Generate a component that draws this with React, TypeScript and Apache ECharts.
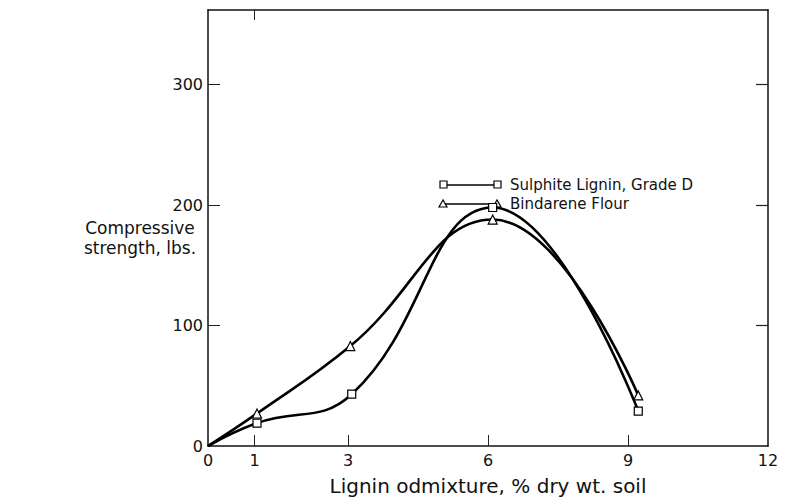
import React, { useEffect, useRef } from "react";
import * as echarts from "echarts";

const sulphiteX = [0, 1.05, 3.08, 6.1, 9.22];
const sulphiteY = [0, 19, 43, 198, 29];
const bindareneX = [0, 1.05, 3.05, 6.1, 9.22];
const bindareneY = [0, 27, 83, 188, 42];
const xTickLabels = [0, 1, 3, 6, 9, 12];
const xTicks = [1, 3, 6, 9];
const yTickLabels = [0, 100, 200, 300];
const yTicks = [100, 200, 300];
const seriesNames = ["Sulphite Lignin, Grade D", "Bindarene Flour"];

const FONT = "DejaVu Sans";

export default function App() {
  const ref = useRef<HTMLDivElement>(null);
  useEffect(() => {
    if (!ref.current) return;
    const chart = echarts.init(ref.current, null, { renderer: "svg" });
    const pts = (xs: number[], ys: number[]) =>
      xs.map((x, i) => (x === 0 && ys[i] === 0 ? { value: [x, ys[i]], symbol: "none" } : [x, ys[i]]));
    const axisLine = { show: true, onZero: false, lineStyle: { color: "#111", width: 1.5 } };
    const option: any = {
      animation: false,
      backgroundColor: "#fff",
      grid: { left: 208, right: 22, top: 10, bottom: 53, containLabel: false },
      xAxis: [
        {
          type: "value",
          min: 0,
          max: 12,
          interval: 1,
          position: "bottom",
          axisLine,
          splitLine: { show: false },
          axisTick: { show: true, inside: true, length: 11, customValues: xTicks, lineStyle: { color: "#222", width: 1 } },
          axisLabel: { customValues: xTickLabels, margin: 6, color: "#111", fontFamily: FONT, fontSize: 16 },
          name: "Lignin odmixture, % dry wt. soil",
          nameLocation: "middle",
          nameGap: 30,
          nameTextStyle: { color: "#111", fontFamily: FONT, fontSize: 20 },
        },
        {
          type: "value",
          min: 0,
          max: 12,
          interval: 1,
          position: "top",
          axisLine,
          splitLine: { show: false },
          axisTick: { show: true, inside: true, length: 10, customValues: [1], lineStyle: { color: "#222", width: 1 } },
          axisLabel: { show: false },
        },
      ],
      yAxis: [
        {
          type: "value",
          min: 0,
          max: 362,
          position: "left",
          axisLine,
          splitLine: { show: false },
          axisTick: { show: true, inside: true, length: 12, customValues: yTicks, lineStyle: { color: "#222", width: 1 } },
          axisLabel: { customValues: yTickLabels, margin: 5, color: "#111", fontFamily: FONT, fontSize: 16 },
        },
        {
          type: "value",
          min: 0,
          max: 362,
          position: "right",
          axisLine,
          splitLine: { show: false },
          axisTick: { show: true, inside: true, length: 12, customValues: yTicks, lineStyle: { color: "#222", width: 1.2 } },
          axisLabel: { show: false },
        },
      ],
      series: [
        {
          name: seriesNames[0],
          type: "line",
          data: pts(sulphiteX, sulphiteY),
          smooth: 0.45,
          symbol: "rect",
          symbolSize: 8,
          showAllSymbol: true,
          lineStyle: { color: "#000", width: 2.6 },
          itemStyle: { color: "#fff", borderColor: "#000", borderWidth: 1.2 },
          z: 3,
        },
        {
          name: seriesNames[1],
          type: "line",
          data: pts(bindareneX, bindareneY),
          smooth: 0.45,
          symbol: "triangle",
          symbolSize: 9,
          showAllSymbol: true,
          lineStyle: { color: "#000", width: 2.6 },
          itemStyle: { color: "#fff", borderColor: "#000", borderWidth: 1.2 },
          z: 3,
        },
      ],
      graphic: [
        {
          type: "text",
          x: 140,
          y: 218,
          style: {
            text: "Compressive\nstrength, lbs.",
            fill: "#111",
            font: `17px "${FONT}"`,
            textAlign: "center",
            lineHeight: 20,
          },
        },
        // legend row 1
        { type: "line", shape: { x1: 444, y1: 185, x2: 496, y2: 185 }, style: { stroke: "#000", lineWidth: 1.6 } },
        { type: "rect", shape: { x: 440, y: 181, width: 7, height: 7 }, style: { fill: "#fff", stroke: "#000", lineWidth: 1.2 } },
        { type: "rect", shape: { x: 494, y: 181, width: 7, height: 7 }, style: { fill: "#fff", stroke: "#000", lineWidth: 1.2 } },
        { type: "text", x: 510, y: 185, style: { text: seriesNames[0], fill: "#111", font: `15px "${FONT}"`, textVerticalAlign: "middle" } },
        // legend row 2
        { type: "line", shape: { x1: 444, y1: 204, x2: 496, y2: 204 }, style: { stroke: "#000", lineWidth: 1.6 } },
        { type: "polygon", shape: { points: [[443, 200], [439, 207], [447, 207]] }, style: { fill: "#fff", stroke: "#000", lineWidth: 1.2 } },
        { type: "polygon", shape: { points: [[497, 200], [493, 207], [501, 207]] }, style: { fill: "#fff", stroke: "#000", lineWidth: 1.2 } },
        { type: "text", x: 510, y: 204, style: { text: seriesNames[1], fill: "#111", font: `15px "${FONT}"`, textVerticalAlign: "middle" } },
      ],
    };
    chart.setOption(option);
    return () => chart.dispose();
  }, []);
  return <div ref={ref} style={{ width: 790, height: 501, position: "absolute", left: 0, top: 0 }} />;
}
